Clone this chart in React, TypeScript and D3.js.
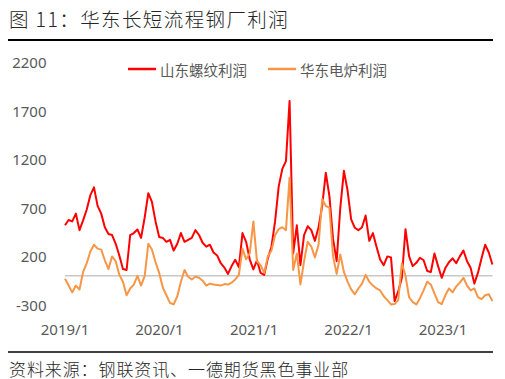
import React from 'react';
import * as d3 from 'd3';

const startDate = new Date(2019, 0, 1);
const stepDays = 14;

const shandongRebar = [
  520, 575, 560, 640, 470, 570, 683, 830, 910, 720,
  640, 500, 430, 420, 330, 210, 70, 60, 420, 440,
  477, 390, 600, 850, 760, 560, 400, 390, 350, 370,
  260, 330, 440, 350, 370, 390, 470, 420, 340, 300,
  320, 240, 210, 130, 85, 20, 100, 165, 90, 440,
  350, 170, 66, 160, 30, 10, 180, 300, 560, 920,
  1100, 1180, 1800, 230, 520, 110, 420, 510, 470, 360,
  500, 720, 1060, 820, 380, 151, 700, 1080, 880, 580,
  495, 470, 500, 620, 360, 440, 300, 169, 110, 200,
  190, -260, -160, -20, 480, 200, 100, 134, 186, 160,
  50, 40, 230, 100, -20, 80, 140, 180, 130, 200,
  260, 150, 80, -80, 30, 180, 320, 240, 117,
];

const eastChinaEAF = [
  -30, -100, -170, -100, -140, 40, 130, 250, 320, 280,
  270, 160, 70, 200, 150, 10, -60, -200, -130, -90,
  0, -100, 0, 330, 270, 140, 30, -120, -200, -280,
  -294, -210, -60, 60, -10, -37, -10, -20, -50, -100,
  -80, -90, -95, -100, -85, -90, -70, -37, 10, 280,
  170, 230, 560, 150, 110, 30, 200, 260, 420, 480,
  500, 470, 1010, 60, 230, -88, 150, 350, 300, 190,
  320, 790, 720, 700, 200, 20, 220, 40, -60, -140,
  -190, -130, -80, 10, -60, -100, -130, -150, -210, -250,
  -294, -290, -250, 130, 0, -220, -270, -294, -230, -150,
  -60, -90, -180, -270, -290, -200, -130, -170, -110, -70,
  -20, -100, -150, -130, -220, -240, -200, -190, -260,
];

const yTicks = [-300, 200, 700, 1200, 1700, 2200];
const xTickLabels = ['2019/1', '2020/1', '2021/1', '2022/1', '2023/1'];
const xTickDates = [
  new Date(2019, 0, 1),
  new Date(2020, 0, 1),
  new Date(2021, 0, 1),
  new Date(2022, 0, 1),
  new Date(2023, 0, 1),
];
const seriesNames = ['山东螺纹利润', '华东电炉利润'];
const seriesColors = ['#FF0000', '#F79646'];

export default function App() {
  const W = 505;
  const H = 379;
  const x = d3
    .scaleTime()
    .domain([new Date(2019, 0, 1), new Date(2023, 0, 1)])
    .range([65, 443]);
  const y = d3.scaleLinear().domain([-300, 2200]).range([305, 62]);

  const dates = shandongRebar.map((_, i) => d3.timeDay.offset(startDate, i * stepDays));
  const line = d3
    .line<number>()
    .x((_, i) => x(dates[i]))
    .y((d) => y(d));

  const series = [shandongRebar, eastChinaEAF];
  const numFont = '"Noto Sans", "Open Sans", sans-serif';
  const cjkFont = '"Noto Sans CJK SC", sans-serif';

  return (
    <svg
      width={W}
      height={H}
      style={{ position: 'absolute', left: 0, top: 0, background: '#fff' }}
    >
      <rect x={0} y={0} width={W} height={H} fill="#fff" />
      <text x={9} y={27} fontFamily={cjkFont} fontSize={19.5} fontWeight={300} letterSpacing={1.4} fill="#262626">
        图 11：华东长短流程钢厂利润
      </text>
      <line x1={8} x2={493} y1={40} y2={40} stroke="#000" strokeWidth={2} />

      {yTicks.map((t) => (
        <text
          key={t}
          x={46.5}
          y={y(t)}
          textAnchor="end"
          dominantBaseline="central"
          fontFamily={numFont}
          fontSize={15}
          fill="#595959"
        >
          {t}
        </text>
      ))}
      {xTickDates.map((d, i) => (
        <text
          key={i}
          x={x(d)}
          y={329}
          textAnchor="middle"
          dominantBaseline="central"
          fontFamily={numFont}
          fontSize={15}
          fill="#595959"
        >
          {xTickLabels[i]}
        </text>
      ))}

      <line
        x1={x(dates[0])}
        x2={x(dates[dates.length - 1])}
        y1={y(0)}
        y2={y(0)}
        stroke="#C8C8C8"
        strokeWidth={1.5}
      />

      {series.map((s, i) => (
        <path
          key={i}
          d={line(s) || ''}
          fill="none"
          stroke={seriesColors[i]}
          strokeWidth={2}
          strokeLinejoin="round"
        />
      ))}

      {seriesNames.map((name, i) => {
        const lx = i === 0 ? 128 : 268;
        return (
          <g key={name}>
            <line x1={lx} x2={lx + 28} y1={69} y2={69} stroke={seriesColors[i]} strokeWidth={2.5} />
            <text
              x={lx + 32}
              y={69}
              dominantBaseline="central"
              fontFamily={cjkFont}
              fontSize={14.5}
              fill="#595959"
            >
              {name}
            </text>
          </g>
        );
      })}

      <line x1={8} x2={493} y1={352} y2={352} stroke="#000" strokeWidth={1.5} />
      <text x={9} y={368} dominantBaseline="central" fontFamily={cjkFont} fontSize={17} fontWeight={300} letterSpacing={0.9} fill="#262626">
        资料来源：钢联资讯、一德期货黑色事业部
      </text>
    </svg>
  );
}
